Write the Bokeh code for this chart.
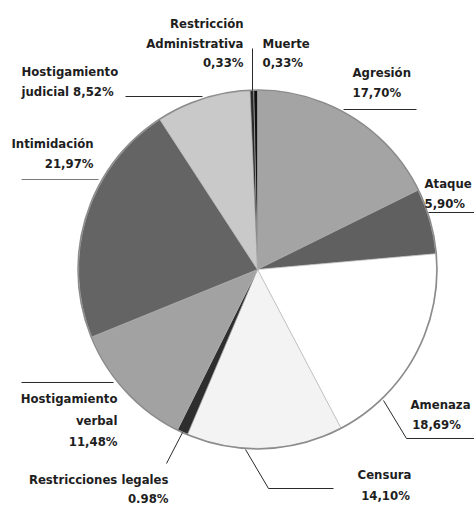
import math
from bokeh.plotting import figure
from bokeh.models import Range1d, ColumnDataSource
from bokeh.core.properties import value
from bokeh.embed import file_html
from bokeh.resources import INLINE

# ---- data ----
categories = ["Agresión", "Ataque", "Amenaza", "Censura", "Restricciones legales",
              "Hostigamiento verbal", "Intimidación", "Hostigamiento judicial",
              "Restricción Administrativa", "Muerte"]
percents = [17.70, 5.90, 18.69, 14.10, 0.98, 11.48, 21.97, 8.52, 0.33, 0.33]
pct_labels = ["17,70%", "5,90%", "18,69%", "14,10%", "0.98%", "11,48%",
              "21,97%", "8,52%", "0,33%", "0,33%"]
colors = ["#a4a4a4", "#606060", "#ffffff", "#f3f3f3", "#2e2e2e",
          "#a2a2a2", "#646464", "#c9c9c9", "#2a2a2a", "#111111"]

# ---- layout (page pixel coords, y downward) ----
W, H = 474, 507
CX, CY, R = 257, 269, 179

def fy(y):
    return H - y

label_layout = [
    (0, [("Agresión", 352, 72, "left"), (None, 352, 92, "left")]),
    (1, [("Ataque", 424, 183, "left"), (None, 424, 203, "left")]),
    (2, [("Amenaza", 440, 404, "center"), (None, 436, 424, "center")]),
    (3, [("Censura", 384, 474, "center"), (None, 385, 495, "center")]),
    (4, [("Restricciones legales", 168, 479, "right"), (None, 168, 498, "right")]),
    (5, [("Hostigamiento", 117, 398, "right"), ("verbal", 117, 420, "right"), (None, 117, 441, "right")]),
    (6, [("Intimidación", 93, 143, "right"), (None, 93, 163, "right")]),
    (7, [("Hostigamiento", 21, 71, "left"), ("judicial " + "{p}", 21, 91, "left")]),
    (8, [("Restricción", 243, 23, "right"), ("Administrativa", 243, 43, "right"), (None, 243, 62, "right")]),
    (9, [("Muerte", 262, 43, "left"), (None, 262, 62, "left")]),
]

leaders = [
    [(343, 109), (416, 109)],
    [(428, 212), (474, 212)],
    [(383, 400), (406, 438), (474, 438)],
    [(245, 449), (268, 488), (333, 488)],
    [(182, 432), (166, 463)],
    [(21, 382), (113, 382)],
    [(21, 179), (98, 179)],
    [(125, 96), (202, 96)],
    [(252, 48), (252, 90)],
]
leader_colors = ["#2a2a2a", "#2a2a2a", "#2a2a2a", "#2a2a2a", "#2a2a2a",
                 "#2a2a2a", "#7a7a7a", "#2a2a2a", "#2a2a2a"]

p = figure(width=W, height=H, output_backend="svg", toolbar_location=None,
           x_range=Range1d(0, W), y_range=Range1d(0, H), min_border=0)
p.axis.visible = False
p.grid.visible = False
p.outline_line_color = None
p.background_fill_color = "white"

starts, ends = [], []
cum = 0.0
total = sum(percents)
for v in percents:
    a0 = math.pi / 2 - 2 * math.pi * cum / total
    cum += v
    a1 = math.pi / 2 - 2 * math.pi * cum / total
    starts.append(a0)
    ends.append(a1)

src = ColumnDataSource(dict(start=starts, end=ends, color=colors, cat=categories))
p.wedge(x=CX, y=fy(CY), radius=R, start_angle="start", end_angle="end",
        direction="clock", fill_color="color", line_color="#b0b0b0",
        line_width=0.6, source=src)
p.circle(x=CX, y=fy(CY), radius=R + 0.5, fill_color=None, line_color="#8c8c8c",
         line_width=1.6)

for pts, lc in zip(leaders, leader_colors):
    p.line([q[0] for q in pts], [fy(q[1]) for q in pts], line_color=lc,
           line_width=1)

for idx, lines in label_layout:
    for txt, x, y, align in lines:
        if txt is None:
            t = pct_labels[idx]
        else:
            t = txt.replace("{p}", pct_labels[idx])
        p.text(x=[x], y=[fy(y)], text=[t], text_align=align,
               text_baseline="middle", text_font=value("DejaVu Sans Condensed"),
               text_font_style="bold", text_font_size="13px",
               text_color="#1e1e1e")

open("out.html", "w").write(file_html(p, INLINE))
